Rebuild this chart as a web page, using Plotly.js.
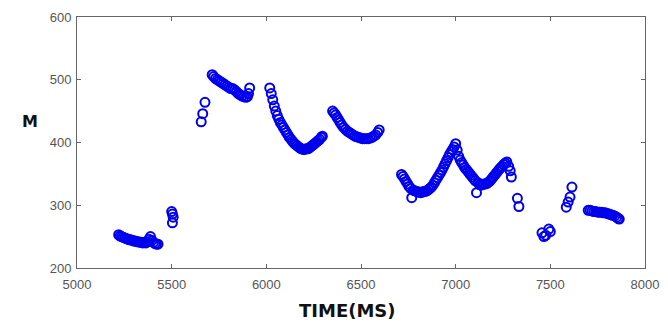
<!DOCTYPE html>
<html>
<head>
<meta charset="utf-8">
<script src="https://cdn.plot.ly/plotly-3.0.1.min.js"></script>
<style>html,body{margin:0;padding:0;background:#fff;}#chart{width:668px;height:322px;}</style>
</head>
<body>
<div id="chart"></div>
<script>
// Time (ms) and M values, segment by segment
const t1 = [5220,5228,5236,5244,5252,5260,5268,5276,5284,5292,5300,5308,5316,5324,5332,5340,5348,5356,5364,5372,5380,5388,5396,5404,5412,5420,5428];
const m1 = [253,251,250,249,248,247,246,245,245,244,243,243,242,242,241,241,240,241,240,242,246,250,244,241,239,238,238];

const t2 = [5500,5504,5508,5504];
const m2 = [290,286,281,272];

const t3 = [5656,5664,5676];
const m3 = [433,446,464];

const t4 = [5714,5722,5732,5742,5752,5762,5772,5782,5792,5802,5812,5822,5832,5842,5852,5862,5872,5882,5892,5900,5906,5912];
const m4 = [508,505,502,500,498,496,494,492,490,488,486,486,484,481,478,476,474,473,472,473,478,487];

const t5 = [6018,6026,6034,6042,6050,6058,6066,6074,6082,6090,6098,6106,6114,6122,6130,6138,6146,6154,6162,6170,6178,6186,6194,6202,6210,6218,6226,6234,6242,6250,6258,6266,6274,6282,6290,6296];
const m5 = [487,478,468,458,450,443,437,432,428,424,420,416,412,408,405,402,399,397,395,393,391,390,389,389,390,390,391,393,395,397,399,401,403,405,408,410];

const t6 = [6350,6358,6366,6374,6382,6390,6398,6408,6418,6428,6438,6448,6458,6468,6478,6488,6498,6508,6518,6528,6538,6548,6558,6568,6578,6588,6596];
const m6 = [450,447,444,440,436,432,428,424,421,418,416,414,412,410,409,408,407,406,406,406,406,407,408,410,412,416,420];

const t7 = [6714,6722,6730,6738,6746,6754,6762,6768,6776,6784,6792,6800,6808,6816,6824,6832,6840,6848,6856,6864,6872,6880,6888,6896,6904,6912,6920,6928,6936,6944,6952,6960,6968,6976,6984,6992,7000,7008,7016,7024,7032,7040,7048,7056,7064,7072,7080,7088,7096,7104,7110,7118,7126,7134,7142,7150,7158,7166,7174,7182,7190,7198,7206,7214,7222,7230,7238,7246,7254,7262,7270,7280,7288,7294];
const m7 = [349,346,342,338,334,330,327,312,324,323,322,321,321,320,321,322,322,323,325,327,329,332,336,340,344,348,352,356,361,366,371,376,381,385,389,393,398,388,378,372,368,364,360,357,354,351,348,345,342,339,320,336,333,332,333,334,334,335,337,339,342,345,348,351,354,357,360,362,365,367,369,362,355,345];

const t8 = [7326,7334];
const m8 = [311,298];

const t9 = [7456,7466,7476,7492,7500];
const m9 = [256,250,252,262,258];

const t10 = [7584,7594,7604,7614];
const m10 = [297,305,313,329];

const t11 = [7700,7710,7720,7730,7740,7750,7760,7770,7780,7790,7800,7810,7820,7830,7840,7850,7858,7864];
const m11 = [292,292,291,290,290,289,289,289,288,288,287,286,285,284,283,281,279,278];

const timeSegments = [t1,t2,t3,t4,t5,t6,t7,t8,t9,t10,t11];
const valueSegments = [m1,m2,m3,m4,m5,m6,m7,m8,m9,m10,m11];

const xTicks = [5000,5500,6000,6500,7000,7500,8000];
const yTicks = [200,300,400,500,600];

const xs = [].concat(...timeSegments);
const ys = [].concat(...valueSegments);

const trace = {
  x: xs, y: ys, type: 'scatter', mode: 'markers',
  marker: {symbol: 'circle-open', size: 9, color: '#0000ee', line: {width: 2, color: '#0000ee'}},
  hoverinfo: 'none'
};

const axisCommon = {
  showgrid: false, zeroline: false, showline: true, mirror: 'ticks',
  linecolor: '#666', linewidth: 1, ticks: 'inside', ticklen: 4, tickcolor: '#666',
  tickfont: {family: 'Liberation Sans, Arial, sans-serif', size: 13, color: '#555'}
};

const layout = {
  width: 668, height: 322,
  margin: {l: 77, r: 23, t: 17, b: 54},
  paper_bgcolor: '#fff', plot_bgcolor: '#fff',
  showlegend: false,
  xaxis: Object.assign({}, axisCommon, {range: [5000, 8000], tickvals: xTicks, ticktext: xTicks.map(String), ticklabelstandoff: 4}),
  yaxis: Object.assign({}, axisCommon, {range: [200, 600], tickvals: yTicks, ticktext: yTicks.map(String), ticklabelstandoff: 2}),
  annotations: [
    {text: '<b>TIME(MS)</b>', xref: 'paper', yref: 'paper', x: 0.477, y: -0.168, xanchor: 'center', yanchor: 'middle', showarrow: false,
     font: {family: 'DejaVu Sans, sans-serif', size: 18, color: '#111'}},
    {text: '<b>M</b>', xref: 'paper', yref: 'paper', x: -0.083, y: 0.585, xanchor: 'center', yanchor: 'middle', showarrow: false,
     font: {family: 'DejaVu Sans, sans-serif', size: 16, color: '#111'}}
  ]
};

Plotly.newPlot('chart', [trace], layout, {displayModeBar: false, staticPlot: true});
</script>
</body>
</html>
